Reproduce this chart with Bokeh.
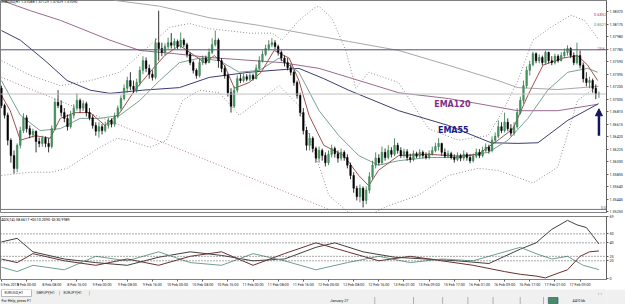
from bokeh.plotting import figure
from bokeh.layouts import column
from bokeh.models import (ColumnDataSource, Range1d, FixedTicker, LinearAxis, Span, Label,
                          Arrow, NormalHead, PrintfTickFormatter)
from bokeh.embed import file_html
from bokeh.resources import INLINE
from bokeh.core.properties import value

# ---------------- data (EURUSD H1) ----------------
first_open = 1.3718
closes = [1.3691, 1.3676, 1.3637, 1.3613, 1.3593, 1.3629, 1.3652, 1.3672, 1.3655, 1.3646,
          1.3651, 1.3635, 1.3632, 1.3640, 1.3632, 1.3627, 1.3655, 1.3696, 1.3691, 1.3680,
          1.3671, 1.3658, 1.3676, 1.3687, 1.3699, 1.3687, 1.3694, 1.3680, 1.3672, 1.3660,
          1.3651, 1.3658, 1.3652, 1.3660, 1.3668, 1.3662, 1.3674, 1.3687, 1.3702, 1.3718,
          1.3730, 1.3721, 1.3716, 1.3727, 1.3746, 1.3761, 1.3749, 1.3740, 1.3735, 1.3789,
          1.3780, 1.3774, 1.3783, 1.3789, 1.3785, 1.3791, 1.3783, 1.3793, 1.3786, 1.3771,
          1.3758, 1.3746, 1.3738, 1.3758, 1.3765, 1.3758, 1.3774, 1.3786, 1.3793, 1.3761,
          1.3749, 1.3738, 1.3711, 1.3690, 1.3715, 1.3733, 1.3730, 1.3736, 1.3732, 1.3738,
          1.3733, 1.3749, 1.3761, 1.3771, 1.3780, 1.3786, 1.3789, 1.3783, 1.3774, 1.3765,
          1.3758, 1.3750, 1.3743, 1.3727, 1.3707, 1.3680, 1.3652, 1.3629, 1.3640, 1.3624,
          1.3609, 1.3621, 1.3613, 1.3602, 1.3615, 1.3624, 1.3616, 1.3609, 1.3618, 1.3610,
          1.3598, 1.3582, 1.3562, 1.3549, 1.3562, 1.3543, 1.3559, 1.3580, 1.3598, 1.3609,
          1.3602, 1.3618, 1.3610, 1.3621, 1.3615, 1.3629, 1.3621, 1.3613, 1.3619, 1.3610,
          1.3607, 1.3616, 1.3612, 1.3618, 1.3613, 1.3610, 1.3616, 1.3621, 1.3627, 1.3632,
          1.3618, 1.3612, 1.3616, 1.3610, 1.3607, 1.3613, 1.3609, 1.3615, 1.3610, 1.3605,
          1.3612, 1.3618, 1.3613, 1.3621, 1.3626, 1.3621, 1.3637, 1.3643, 1.3658, 1.3652,
          1.3665, 1.3655, 1.3648, 1.3658, 1.3680, 1.3699, 1.3722, 1.3746, 1.3755, 1.3772,
          1.3761, 1.3766, 1.3758, 1.3774, 1.3761, 1.3758, 1.3768, 1.3761, 1.3769, 1.3774,
          1.3780, 1.3769, 1.3758, 1.3769, 1.3754, 1.3733, 1.3727, 1.3730, 1.3718, 1.3709,
          1.3709]
highs = [1.3722, 1.3694, 1.3680, 1.3640, 1.3621, 1.3632, 1.3658, 1.3679, 1.3676, 1.3660,
         1.3655, 1.3652, 1.3641, 1.3644, 1.3643, 1.3640, 1.3660, 1.3702, 1.3715, 1.3699,
         1.3687, 1.3677, 1.3683, 1.3693, 1.3710, 1.3702, 1.3699, 1.3697, 1.3687, 1.3676,
         1.3665, 1.3665, 1.3662, 1.3666, 1.3672, 1.3671, 1.3680, 1.3691, 1.3707, 1.3724,
         1.3736, 1.3743, 1.3730, 1.3733, 1.3752, 1.3768, 1.3766, 1.3755, 1.3746, 1.3796,
         1.3839, 1.3789, 1.3788, 1.3797, 1.3804, 1.3796, 1.3794, 1.3805, 1.3796, 1.3789,
         1.3774, 1.3761, 1.3749, 1.3765, 1.3769, 1.3769, 1.3780, 1.3796, 1.3808, 1.3796,
         1.3765, 1.3754, 1.3741, 1.3718, 1.3721, 1.3738, 1.3740, 1.3741, 1.3740, 1.3743,
         1.3741, 1.3755, 1.3768, 1.3777, 1.3786, 1.3793, 1.3796, 1.3793, 1.3786, 1.3777,
         1.3769, 1.3765, 1.3755, 1.3746, 1.3730, 1.3711, 1.3687, 1.3658, 1.3648, 1.3643,
         1.3627, 1.3627, 1.3624, 1.3618, 1.3621, 1.3630, 1.3627, 1.3621, 1.3624, 1.3621,
         1.3615, 1.3602, 1.3587, 1.3566, 1.3568, 1.3565, 1.3565, 1.3587, 1.3605, 1.3618,
         1.3615, 1.3627, 1.3624, 1.3629, 1.3626, 1.3640, 1.3633, 1.3626, 1.3624, 1.3623,
         1.3616, 1.3621, 1.3619, 1.3623, 1.3621, 1.3618, 1.3621, 1.3627, 1.3633, 1.3640,
         1.3633, 1.3624, 1.3621, 1.3619, 1.3615, 1.3618, 1.3616, 1.3621, 1.3618, 1.3615,
         1.3616, 1.3624, 1.3623, 1.3627, 1.3632, 1.3630, 1.3643, 1.3649, 1.3668, 1.3665,
         1.3680, 1.3671, 1.3662, 1.3665, 1.3687, 1.3705, 1.3730, 1.3752, 1.3761, 1.3775,
         1.3774, 1.3771, 1.3769, 1.3777, 1.3775, 1.3768, 1.3772, 1.3771, 1.3774, 1.3780,
         1.3785, 1.3782, 1.3774, 1.3789, 1.3777, 1.3758, 1.3743, 1.3736, 1.3733, 1.3724,
         1.3713]
lows = [1.3687, 1.3671, 1.3629, 1.3602, 1.3585, 1.3587, 1.3624, 1.3648, 1.3649, 1.3640,
        1.3641, 1.3618, 1.3626, 1.3627, 1.3626, 1.3618, 1.3624, 1.3652, 1.3687, 1.3674,
        1.3665, 1.3652, 1.3655, 1.3671, 1.3683, 1.3680, 1.3683, 1.3674, 1.3668, 1.3655,
        1.3644, 1.3641, 1.3646, 1.3649, 1.3655, 1.3657, 1.3658, 1.3671, 1.3683, 1.3699,
        1.3711, 1.3715, 1.3711, 1.3711, 1.3722, 1.3740, 1.3743, 1.3733, 1.3730, 1.3732,
        1.3761, 1.3768, 1.3769, 1.3779, 1.3780, 1.3780, 1.3779, 1.3780, 1.3782, 1.3766,
        1.3754, 1.3741, 1.3733, 1.3735, 1.3754, 1.3755, 1.3757, 1.3771, 1.3783, 1.3750,
        1.3743, 1.3733, 1.3705, 1.3680, 1.3687, 1.3711, 1.3726, 1.3727, 1.3729, 1.3729,
        1.3730, 1.3732, 1.3746, 1.3758, 1.3768, 1.3777, 1.3782, 1.3779, 1.3769, 1.3760,
        1.3752, 1.3746, 1.3738, 1.3722, 1.3702, 1.3674, 1.3646, 1.3621, 1.3621, 1.3618,
        1.3602, 1.3602, 1.3605, 1.3596, 1.3598, 1.3610, 1.3610, 1.3602, 1.3605, 1.3605,
        1.3593, 1.3576, 1.3555, 1.3543, 1.3540, 1.3532, 1.3537, 1.3554, 1.3576, 1.3593,
        1.3598, 1.3599, 1.3605, 1.3607, 1.3610, 1.3612, 1.3616, 1.3609, 1.3609, 1.3605,
        1.3602, 1.3604, 1.3609, 1.3609, 1.3609, 1.3607, 1.3607, 1.3613, 1.3618, 1.3621,
        1.3613, 1.3609, 1.3609, 1.3607, 1.3602, 1.3604, 1.3604, 1.3605, 1.3605, 1.3601,
        1.3602, 1.3609, 1.3609, 1.3610, 1.3618, 1.3616, 1.3618, 1.3632, 1.3640, 1.3648,
        1.3649, 1.3651, 1.3643, 1.3644, 1.3655, 1.3677, 1.3694, 1.3718, 1.3738, 1.3752,
        1.3757, 1.3757, 1.3754, 1.3755, 1.3757, 1.3754, 1.3755, 1.3758, 1.3760, 1.3765,
        1.3769, 1.3765, 1.3754, 1.3755, 1.3749, 1.3727, 1.3721, 1.3718, 1.3711, 1.3701,
        1.3703]

# indicator lines: (bar index, price)
ema200_x = [33, 36.1, 50.3, 66.1, 82, 94.6, 110.4, 126.3, 142.1, 157.9, 164.2, 176.9, 189.9]
ema200_y = [1.3860, 1.3855, 1.3846, 1.3828, 1.3816, 1.3805, 1.3791, 1.3777, 1.3754, 1.3730, 1.3719, 1.3716, 1.3721]
ema120_x = [0, 9.2, 18.7, 34.5, 44, 55.1, 66.1, 89.2, 101, 110.4, 126.3, 142.1, 151.6, 164.2, 176.9, 189.6]
ema120_y = [1.3855, 1.3839, 1.3824, 1.3793, 1.3777, 1.3772, 1.3766, 1.3758, 1.3749, 1.3735, 1.3711, 1.3702, 1.3694, 1.3683, 1.3683, 1.3693]
ema55_x = [0, 6, 13.9, 20.9, 28.2, 34.5, 44.9, 56.6, 66.1, 78.8, 94.6, 102.5, 110.4, 126.3, 142.1, 155.7, 164.2, 170.6, 180.1, 189.9]
ema55_y = [1.3808, 1.3793, 1.3761, 1.3730, 1.3715, 1.3710, 1.3715, 1.3719, 1.3735, 1.3743, 1.3749, 1.3733, 1.3715, 1.3683, 1.3660, 1.3633, 1.3632, 1.3633, 1.3668, 1.3694]
fast_x = [0, 2.8, 6, 10.8, 15.5, 18.7, 23.4, 28.2, 32.9, 37.7, 42.4, 47.2, 51.9, 56.6, 61.4, 64.6, 67.7, 70.9,
          74.1, 78.8, 82.6, 86.7, 91.5, 94.6, 97.8, 102.5, 108.9, 113.6, 116.8, 119.9, 126.3, 135.8, 145.3,
          151.6, 157.9, 162.7, 167.4, 172.2, 178.5, 183.2, 186.4, 189.6]
fast_y = [1.3707, 1.3683, 1.3637, 1.3644, 1.3640, 1.3671, 1.3680, 1.3680, 1.3660, 1.3680, 1.3715, 1.3743,
          1.3769, 1.3785, 1.3769, 1.3758, 1.3769, 1.3754, 1.3718, 1.3727, 1.3743, 1.3777, 1.3765, 1.3730,
          1.3676, 1.3629, 1.3613, 1.3582, 1.3566, 1.3590, 1.3613, 1.3615, 1.3612, 1.3615, 1.3637, 1.3655,
          1.3707, 1.3754, 1.3765, 1.3769, 1.3754, 1.3730]
mid_x = [0, 6, 12.3, 18.7, 25, 31.3, 37.7, 44, 50.3, 56.6, 63, 69.3, 75.6, 82, 88.3, 94.6, 101, 107.3,
         113.6, 119.9, 126.3, 135.8, 145.3, 154.7, 161.1, 167.4, 173.7, 180.1, 186.4, 189.6]
mid_y = [1.3730, 1.3676, 1.3652, 1.3655, 1.3671, 1.3671, 1.3676, 1.3699, 1.3730, 1.3758, 1.3765, 1.3761,
         1.3743, 1.3746, 1.3765, 1.3743, 1.3683, 1.3644, 1.3613, 1.3598, 1.3605, 1.3610, 1.3610, 1.3618,
         1.3637, 1.3671, 1.3715, 1.3743, 1.3749, 1.3743]
bb_up_x = [0, 9.2, 18.7, 28.2, 37.7, 47.2, 53.5, 59.8, 66.1, 78.8, 86.1, 89.2, 94.6, 99.4, 101, 105.1,
           109.5, 112.7, 116.8, 126.3, 135.8, 145.3, 154.7, 159.5, 164.2, 169, 174.7, 181, 185.4, 189.6]
bb_up_y = [1.3761, 1.3738, 1.3722, 1.3730, 1.3743, 1.3785, 1.3813, 1.3819, 1.3811, 1.3804, 1.3804, 1.3793,
           1.3824, 1.3843, 1.3846, 1.3827, 1.3777, 1.3718, 1.3743, 1.3727, 1.3655, 1.3637, 1.3644, 1.3683,
           1.3730, 1.3793, 1.3813, 1.3832, 1.3824, 1.3796]
bb_lo_x = [0, 9.2, 15.5, 20.9, 31.3, 36.8, 40, 47.2, 52.5, 57.6, 63, 69.3, 75.6, 82, 88.3, 94.6, 99.4,
           104.1, 110.4, 116.8, 123.1, 132.6, 142.1, 151.6, 157.9, 164.2, 169, 176.9, 183.2, 189.6]
bb_lo_y = [1.3582, 1.3587, 1.3587, 1.3593, 1.3626, 1.3640, 1.3637, 1.3626, 1.3637, 1.3699, 1.3715, 1.3711,
           1.3676, 1.3699, 1.3722, 1.3691, 1.3621, 1.3551, 1.3524, 1.3520, 1.3535, 1.3551, 1.3582, 1.3593,
           1.3590, 1.3579, 1.3570, 1.3595, 1.3699, 1.3722]
trend_x = [0, 104.1]
trend_y = [1.3735, 1.3529]

fib_levels = [1.3778, 1.3529]
fib_names = ["23.6", "0.0"]
bid_price = 1.3709
price_ticks = [1.35250, 1.35445, 1.35640, 1.35835, 1.36030, 1.36225, 1.36420, 1.36615, 1.36810,
               1.37005, 1.37200, 1.37395, 1.37590, 1.37785, 1.37980, 1.38175, 1.38370]

# ADX(14) sub-window: (bar, value)
adx_x = [0, 5, 10, 20, 30, 40, 50, 60, 70, 80, 90, 100, 106, 115, 125, 135, 145, 155, 160, 165, 170, 175, 180, 183, 186, 188, 190]
adx_v = [41, 45, 30, 22, 18, 15, 24, 30, 26, 20, 22, 35, 40, 30, 24, 22, 20, 17, 25, 33, 40, 55, 65, 60, 57, 48, 38.66]
pdi_x = [0, 5, 10, 20, 30, 40, 50, 60, 70, 80, 90, 100, 110, 120, 130, 140, 150, 160, 165, 170, 175, 180, 185, 190]
pdi_v = [13, 8, 15, 10, 25, 20, 30, 18, 15, 28, 20, 10, 18, 25, 18, 22, 20, 30, 35, 28, 22, 25, 15, 10.21]
mdi_x = [0, 5, 10, 20, 30, 40, 50, 60, 70, 80, 90, 100, 110, 120, 130, 140, 150, 160, 165, 170, 173, 176, 180, 184, 187, 190]
mdi_v = [22, 18, 28, 20, 15, 22, 15, 25, 30, 15, 28, 40, 30, 20, 25, 20, 15, 8, 5, 3, 1, 5, 10, 25, 30, 30.99]
adx_levels = [20, 25, 40, 50]
adx_ticks = [0, 20, 25, 40, 50, 69]

time_labels = ["5 Feb 2019", "8 Feb 00:00", "8 Feb 08:00", "8 Feb 16:00", "9 Feb 00:00", "9 Feb 08:00",
               "9 Feb 16:00", "10 Feb 00:00", "10 Feb 08:00", "10 Feb 16:00", "11 Feb 00:00", "11 Feb 08:00",
               "11 Feb 16:00", "12 Feb 00:00", "12 Feb 08:00", "12 Feb 16:00", "13 Feb 01:00", "15 Feb 09:00",
               "15 Feb 17:00", "16 Feb 01:00", "16 Feb 09:00", "16 Feb 17:00", "17 Feb 01:00", "17 Feb 09:00"]
time_ticks = [8 * k for k in range(len(time_labels))]

# ---------------- build ----------------
FONT = "Roboto"
FS = "3.7px"
XR = (-0.3, 192.4)
n = len(closes)
opens = [first_open] + closes[:-1]
idx = list(range(n))
bull = [i for i in idx if closes[i] >= opens[i]]
bear = [i for i in idx if closes[i] < opens[i]]

def cds(ids):
    return ColumnDataSource(dict(
        x=ids,
        top=[max(opens[i], closes[i]) for i in ids],
        bottom=[min(opens[i], closes[i]) for i in ids],
        hi=[highs[i] for i in ids],
        lo=[lows[i] for i in ids]))

def style_axis(a):
    a.major_label_text_font_size = FS
    a.major_label_text_font = FONT
    a.major_label_text_color = "#202020"
    a.major_tick_out = 2
    a.major_tick_in = 0
    a.minor_tick_out = 0
    a.minor_tick_in = 0
    a.major_label_standoff = 1
    a.major_tick_line_color = "#606060"

p = figure(width=625, height=214, x_range=Range1d(*XR), y_range=Range1d(1.35242, 1.38549),
           output_backend="svg", toolbar_location=None, min_border_left=0, min_border_top=0,
           min_border_bottom=2, min_border_right=16)
p.xaxis.visible = False
p.yaxis.visible = False
p.grid.visible = False
p.outline_line_color = "#808080"
p.background_fill_color = "white"

ax = LinearAxis(ticker=FixedTicker(ticks=price_ticks), formatter=PrintfTickFormatter(format="%.5f"))
style_axis(ax)
ax.axis_line_color = "#606060"
p.add_layout(ax, "right")

# horizontal level lines
p.add_layout(Span(location=fib_levels[0], dimension="width", line_color="#50507a", line_width=1))
p.add_layout(Span(location=fib_levels[1], dimension="width", line_color="#7070a0", line_width=1))
p.add_layout(Span(location=bid_price, dimension="width", line_color="#c0c0c0", line_width=1))

# indicator lines
p.line(trend_x, trend_y, line_color="#b08080", line_dash="1 2", line_width=1)
p.line(bb_up_x, bb_up_y, line_color="#909090", line_dash="1 2", line_width=1)
p.line(bb_lo_x, bb_lo_y, line_color="#909090", line_dash="1 2", line_width=1)
p.line(ema200_x, ema200_y, line_color="#a8a8a8", line_width=1)
p.line(ema120_x, ema120_y, line_color="#9a6a90", line_width=1)
p.line(ema55_x, ema55_y, line_color="#3c3c70", line_width=1)
p.line(mid_x, mid_y, line_color="#7aa090", line_width=1)
p.line(fast_x, fast_y, line_color="#a05050", line_width=1)

# candles
sb, sr = cds(bull), cds(bear)
p.segment("x", "hi", "x", "lo", source=sb, line_color="#2f6f44", line_width=0.8)
p.segment("x", "hi", "x", "lo", source=sr, line_color="#000000", line_width=0.8)
p.vbar(x="x", top="top", bottom="bottom", width=0.5, source=sb, fill_color="#45a264", line_color="#2f6f44", line_width=0.5)
p.vbar(x="x", top="top", bottom="bottom", width=0.5, source=sr, fill_color="#000000", line_color="#000000", line_width=0.5)

# texts
p.add_layout(Label(x=-0.1, y=1.3852, text="EURUSD,H1  1.37088 1.37129 1.37029 1.37090",
                   text_font=FONT, text_font_size=FS, text_color="#000000", text_baseline="middle"))
p.add_layout(Label(x=137.6, y=1.3693, text="EMA120", text_font="DejaVu Sans", text_font_style="bold",
                   text_font_size="8px", text_color="#7e2f86", text_baseline="middle"))
p.add_layout(Label(x=138.8, y=1.3652, text="EMA55", text_font="DejaVu Sans", text_font_style="bold",
                   text_font_size="8px", text_color="#1a1a8c", text_baseline="middle"))
p.add_layout(Label(x=191.8, y=fib_levels[0], text=fib_names[0], text_font=FONT, text_font_size=FS,
                   text_color="#50507a", text_align="right", text_baseline="bottom"))
p.add_layout(Label(x=192.3, y=fib_levels[1], text=fib_names[1], text_font=FONT, text_font_size=FS,
                   text_color="#50507a", text_align="right", text_baseline="bottom"))
p.add_layout(Label(x=192.3, y=1.3833, text="0.6852", text_font=FONT, text_font_size="4px",
                   text_color="#b04848", text_align="right", text_baseline="middle"))
p.add_layout(Label(x=192.3, y=1.3818, text="0.8521", text_font=FONT, text_font_size="4px",
                   text_color="#4a9a4a", text_align="right", text_baseline="middle"))
p.add_layout(Label(x=192.45, y=bid_price, text="1.37090", text_font=FONT, text_font_size=FS,
                   text_color="white", background_fill_color="black", text_baseline="middle", x_offset=2))
p.add_layout(Arrow(end=NormalHead(size=7, fill_color="#151560", line_color="#151560"),
                   x_start=190.0, y_start=1.3644, x_end=190.0, y_end=1.3686,
                   line_color="#151560", line_width=2.5))

# ADX pane
q = figure(width=625, height=75, x_range=p.x_range, y_range=Range1d(-0.8, 69.3),
           output_backend="svg", toolbar_location=None, min_border_left=0, min_border_top=2,
           min_border_bottom=8, min_border_right=16)
q.yaxis.visible = False
q.grid.visible = False
q.outline_line_color = "#808080"
for lv in adx_levels:
    q.add_layout(Span(location=lv, dimension="width", line_color="#505050", line_dash="1 2", line_width=1))
q.line(adx_x, adx_v, line_color="#404040", line_width=1)
q.line(pdi_x, pdi_v, line_color="#6f9f90", line_width=1)
q.line(mdi_x, mdi_v, line_color="#6a3030", line_width=1)
qa = LinearAxis(ticker=FixedTicker(ticks=adx_ticks))
style_axis(qa)
qa.axis_line_color = "#606060"
q.add_layout(qa, "right")
xa = q.xaxis[0]
xa.ticker = FixedTicker(ticks=time_ticks)
xa.major_label_overrides = {t: s for t, s in zip(time_ticks, time_labels)}
style_axis(xa)
xa.major_label_text_align = "left"
xa.axis_line_color = None
q.add_layout(Label(x=-0.1, y=65.5, text="ADX(14) 38.6617 +DI:10.2090 -DI:30.9989", text_font=FONT,
                   text_font_size=FS, text_color="#000000", text_baseline="middle"))

# tabs and status bar
b = figure(width=625, height=15, x_range=Range1d(0, 625), y_range=Range1d(0, 15),
           output_backend="svg", toolbar_location=None, min_border=0)
b.axis.visible = False
b.grid.visible = False
b.outline_line_color = None
b.background_fill_color = "#f0f0f0"
b.border_fill_color = "#f0f0f0"
b.quad(left=[1], right=[32], bottom=[8], top=[15], fill_color="white", line_color="#909090", line_width=0.6)
tab_names = ["EURUSD,H1", "GBPJPY,H1", "EURJPY,H1"]
tab_x = [4, 37, 65]
for tx, tn in zip(tab_x, tab_names):
    b.text(x=[tx], y=[11.5], text=[tn], text_font=value(FONT), text_font_size=FS,
           text_color="#303030", text_baseline="middle")
b.text(x=[60, 91], y=[11.5, 11.5], text=["|", "|"], text_font=value(FONT), text_font_size="5px",
       text_color="#808080", text_baseline="middle")
b.text(x=[616], y=[11.5], text=["‹ ›"], text_font=value(FONT), text_font_size="5px",
       text_color="#808080", text_baseline="middle")
b.text(x=[1, 340, 590], y=[3.8, 3.8, 3.8], text=["For Help, press F1", "January 27", "44/0 kb"],
       text_font=value(FONT), text_font_size=FS, text_color="#202020", text_baseline="middle")
b.segment(x0=[386, 426, 456, 482, 508, 536, 560], y0=[0.5] * 7, x1=[386, 426, 456, 482, 508, 536, 560],
          y1=[7.5] * 7, line_color="#b0b0b0", line_width=1)
b.quad(left=[565], right=[575], bottom=[1], top=[7], fill_color="#4a8a6a", line_color="#2a4a6a", line_width=0.6)

layout = column(p, q, b, spacing=0)
open("out.html", "w").write(file_html(layout, INLINE))
